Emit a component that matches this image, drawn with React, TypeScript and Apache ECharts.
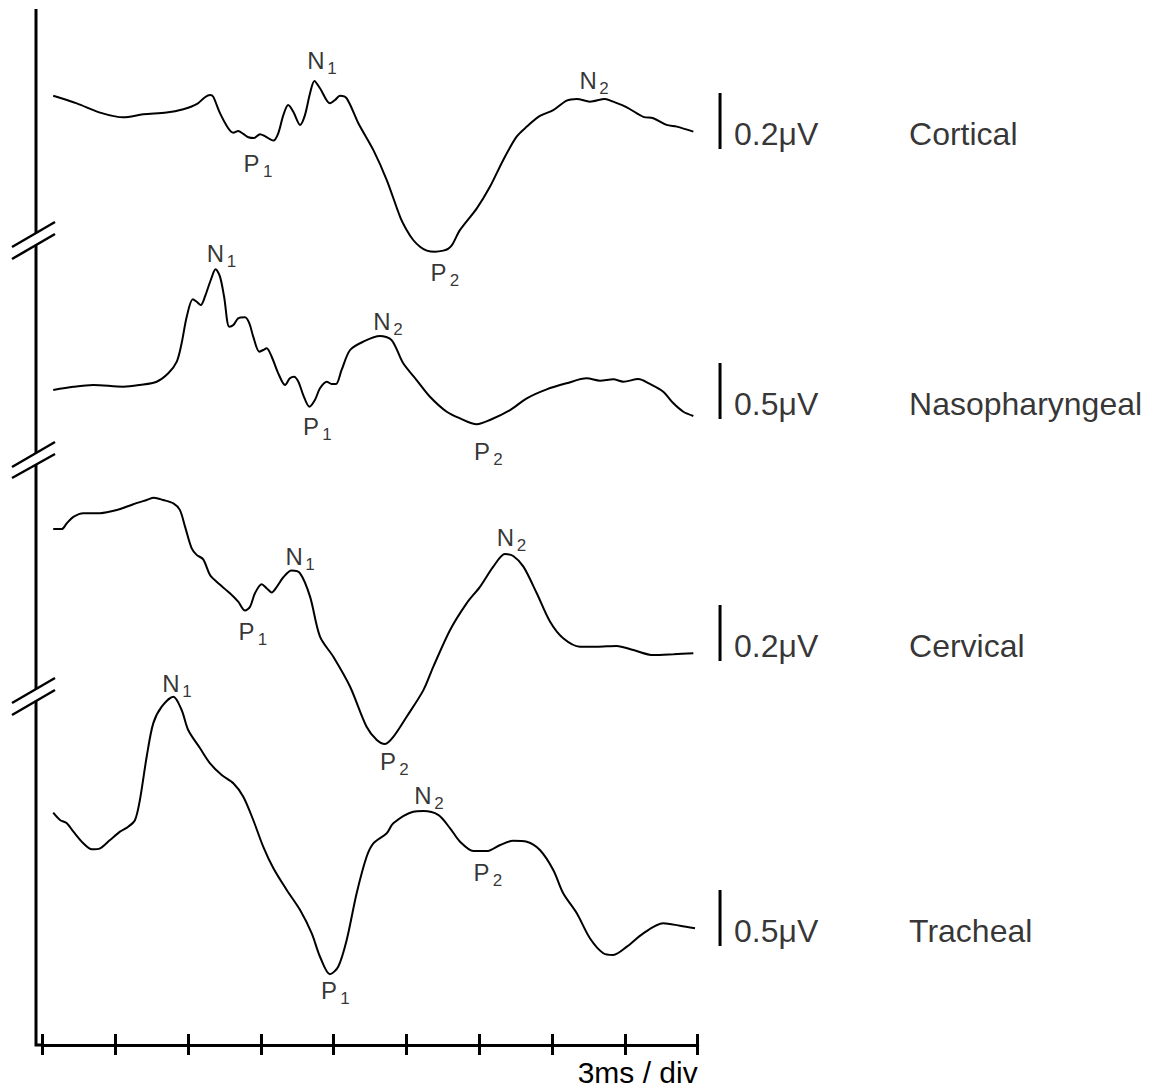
import React, { useEffect, useRef } from "react";
import * as echarts from "echarts";

const FONT = "'Liberation Sans', Arial, Helvetica, sans-serif";

// Time base: 3 ms per division, 9 divisions
const timeMin = 0;
const timeMax = 27;
const timeStep = 3;
const timeAxisLabel = "3ms / div";

const traceNames = ["Cortical", "Nasopharyngeal", "Cervical", "Tracheal"];
const scaleBarsUV = [0.2, 0.5, 0.2, 0.5];

// [time (ms), amplitude (µV, relative to the foot of the scale bar)]
const cortical = [
  [0.45, 0.19], [1.42, 0.163], [2.38, 0.13], [3.34, 0.113], [4.16, 0.124], [5.12, 0.13],
  [5.81, 0.142], [6.36, 0.16], [6.7, 0.185], [6.91, 0.193], [7.04, 0.187], [7.32, 0.128],
  [7.66, 0.074], [7.87, 0.058], [8.07, 0.064], [8.28, 0.054], [8.49, 0.042], [8.72, 0.039],
  [8.97, 0.053], [9.17, 0.046], [9.52, 0.03], [9.72, 0.056], [9.93, 0.121], [10.13, 0.157],
  [10.34, 0.133], [10.62, 0.086], [10.82, 0.121], [11.03, 0.199], [11.21, 0.243], [11.44, 0.217],
  [11.85, 0.163], [12.06, 0.175], [12.26, 0.19], [12.54, 0.181], [13.02, 0.092], [13.64, -0.004],
  [14.19, -0.111], [14.74, -0.242], [15.01, -0.289], [15.28, -0.325], [15.56, -0.349], [15.84, -0.363],
  [16.18, -0.367], [16.52, -0.363], [16.73, -0.356], [16.9, -0.34], [17.21, -0.289], [17.9, -0.212],
  [18.44, -0.135], [18.99, -0.039], [19.54, 0.044], [19.96, 0.08], [20.5, 0.118], [21.05, 0.139],
  [21.6, 0.173], [22.02, 0.179], [22.56, 0.169], [23.18, 0.179], [23.52, 0.169], [24.08, 0.149],
  [24.76, 0.115], [25.17, 0.11], [25.72, 0.086], [26.14, 0.08], [26.82, 0.062],
];

const nasopharyngeal = [
  [0.45, 0.259], [1.28, 0.288], [2.1, 0.304], [3.34, 0.288], [4.02, 0.304], [4.71, 0.333],
  [5.19, 0.408], [5.54, 0.512], [5.74, 0.676], [5.95, 0.913], [6.2, 1.069], [6.36, 1.047],
  [6.53, 1.018], [6.7, 1.092], [6.94, 1.241], [7.14, 1.337], [7.32, 1.271], [7.49, 1.092],
  [7.7, 0.824], [7.87, 0.839], [8.07, 0.899], [8.35, 0.908], [8.53, 0.854], [8.69, 0.735],
  [8.94, 0.601], [9.1, 0.616], [9.24, 0.631], [9.45, 0.556], [9.72, 0.408], [10.0, 0.304],
  [10.2, 0.363], [10.37, 0.378], [10.55, 0.333], [10.75, 0.214], [11.0, 0.11], [11.23, 0.17],
  [11.44, 0.274], [11.72, 0.333], [11.92, 0.313], [12.1, 0.313], [12.33, 0.438], [12.68, 0.616],
  [13.22, 0.69], [13.91, 0.741], [14.39, 0.705], [14.87, 0.497], [15.42, 0.348], [15.97, 0.199],
  [16.66, 0.065], [17.21, 0.006], [17.9, -0.047], [18.44, -0.009], [19.27, 0.08], [19.96, 0.185],
  [20.78, 0.265], [21.6, 0.319], [22.43, 0.363], [22.98, 0.342], [23.52, 0.354], [23.94, 0.333],
  [24.55, 0.357], [25.03, 0.313], [25.58, 0.244], [26.0, 0.14], [26.41, 0.065], [26.82, 0.027],
];

const cervical = [
  [0.45, 0.471], [0.8, 0.471], [1.01, 0.492], [1.28, 0.515], [1.69, 0.528], [2.38, 0.528],
  [3.07, 0.539], [3.75, 0.56], [4.3, 0.575], [4.6, 0.583], [4.98, 0.575], [5.4, 0.563],
  [5.67, 0.539], [5.88, 0.48], [6.15, 0.403], [6.36, 0.379], [6.63, 0.363], [6.91, 0.307],
  [7.18, 0.283], [7.73, 0.242], [8.07, 0.212], [8.35, 0.18], [8.56, 0.194], [8.76, 0.242],
  [9.04, 0.274], [9.24, 0.26], [9.45, 0.245], [9.66, 0.265], [9.93, 0.299], [10.27, 0.323],
  [10.62, 0.313], [11.03, 0.23], [11.44, 0.087], [11.99, 0.015], [12.68, -0.092], [13.36, -0.235],
  [13.78, -0.282], [14.12, -0.296], [14.46, -0.271], [15.01, -0.199], [15.7, -0.104], [16.11, -0.02],
  [16.8, 0.111], [17.48, 0.206], [18.03, 0.265], [18.58, 0.337], [19.06, 0.382], [19.4, 0.375],
  [19.82, 0.337], [20.37, 0.242], [20.92, 0.14], [21.46, 0.081], [22.15, 0.051], [22.84, 0.051],
  [23.66, 0.054], [24.35, 0.039], [25.17, 0.021], [26.0, 0.024], [26.82, 0.028],
];

const tracheal = [
  [0.45, 1.19], [0.73, 1.125], [1.01, 1.096], [1.28, 1.021], [1.69, 0.917], [2.04, 0.863],
  [2.38, 0.872], [2.79, 0.946], [3.2, 1.021], [3.54, 1.065], [3.82, 1.125], [4.02, 1.304],
  [4.3, 1.69], [4.57, 1.988], [4.92, 2.137], [5.4, 2.226], [5.74, 2.107], [6.01, 1.929],
  [6.5, 1.765], [6.91, 1.631], [7.39, 1.527], [7.87, 1.453], [8.28, 1.333], [8.69, 1.125],
  [9.1, 0.887], [9.52, 0.694], [10.07, 0.5], [10.62, 0.321], [11.1, 0.113], [11.44, -0.096],
  [11.85, -0.253], [12.19, -0.185], [12.54, 0.054], [12.95, 0.471], [13.36, 0.797], [13.64, 0.917],
  [14.19, 1.006], [14.46, 1.096], [15.28, 1.199], [15.7, 1.205], [16.31, 1.17], [16.8, 1.051],
  [17.21, 0.931], [17.76, 0.848], [18.31, 0.848], [18.86, 0.902], [19.4, 0.94], [19.96, 0.931],
  [20.5, 0.857], [21.05, 0.679], [21.46, 0.471], [22.02, 0.292], [22.56, 0.069], [23.11, -0.065],
  [23.52, -0.08], [24.08, -0.006], [24.76, 0.113], [25.58, 0.203], [26.27, 0.181], [26.89, 0.158],
];

// Component labels: [letter, subscript, time (ms), amplitude (µV)]
const corticalPeaks = [["N", "1", 11.52, 0.304], ["P", "1", 8.87, -0.064], ["N", "2", 22.73, 0.234], ["P", "2", 16.57, -0.45]];
const nasopharyngealPeaks = [["N", "1", 7.38, 1.455], ["P", "1", 11.32, -0.098], ["N", "2", 14.24, 0.844], ["P", "2", 18.36, -0.321]];
const cervicalPeaks = [["N", "1", 10.62, 0.364], ["P", "1", 8.66, 0.095], ["N", "2", 19.33, 0.429], ["P", "2", 14.49, -0.371]];
const trachealPeaks = [["N", "1", 5.55, 2.313], ["P", "1", 12.06, -0.42], ["N", "2", 15.93, 1.317], ["P", "2", 18.34, 0.629]];

const traceData = [cortical, nasopharyngeal, cervical, tracheal];
const tracePeaks = [corticalPeaks, nasopharyngealPeaks, cervicalPeaks, trachealPeaks];

// ---- layout (pixels) ----
const X0 = 42.3; // pixel of 0 ms
const PX_PER_MS = 655.4 / 27;
const TRACE_X_MIN = -0.5;
const TRACE_X_MAX = 28.5;
const BAR_MS = 27.92;
const layouts = [
  { base: 149, pxPerUV: 280, top: 40, bottom: 300 },
  { base: 419, pxPerUV: 112, top: 240, bottom: 480 },
  { base: 661, pxPerUV: 280, top: 480, bottom: 790 },
  { base: 946, pxPerUV: 112, top: 660, bottom: 1010 },
];
const AXIS_Y = 1045;

function buildOption() {
  const grids: any[] = [];
  const xAxes: any[] = [];
  const yAxes: any[] = [];
  const series: any[] = [];

  layouts.forEach((l, i) => {
    grids.push({
      left: X0 + TRACE_X_MIN * PX_PER_MS,
      width: (TRACE_X_MAX - TRACE_X_MIN) * PX_PER_MS,
      top: l.top,
      height: l.bottom - l.top,
    });
    xAxes.push({ type: "value", gridIndex: i, min: TRACE_X_MIN, max: TRACE_X_MAX, show: false });
    yAxes.push({
      type: "value",
      gridIndex: i,
      min: -(l.bottom - l.base) / l.pxPerUV,
      max: (l.base - l.top) / l.pxPerUV,
      show: false,
    });
    series.push({
      type: "line",
      xAxisIndex: i,
      yAxisIndex: i,
      data: traceData[i],
      showSymbol: false,
      smooth: 0.3,
      clip: false,
      silent: true,
      lineStyle: { color: "#000", width: 2 },
    });
    // scale bar
    series.push({
      type: "line",
      xAxisIndex: i,
      yAxisIndex: i,
      data: [[BAR_MS, 0], [BAR_MS, scaleBarsUV[i]]],
      showSymbol: false,
      clip: false,
      silent: true,
      lineStyle: { color: "#000", width: 3 },
    });
    // scale value + trace name
    series.push({
      type: "scatter",
      xAxisIndex: i,
      yAxisIndex: i,
      symbolSize: 0,
      silent: true,
      data: [[BAR_MS, 0]],
      label: {
        show: true,
        position: "right",
        distance: 14,
        offset: [0, -15],
        color: "#000",
        formatter: `{v|${scaleBarsUV[i]}\u03bcV}{n|${traceNames[i]}}`,
        rich: {
          v: { fontFamily: FONT, fontSize: 32, color: "#000", width: 175 },
          n: { fontFamily: FONT, fontSize: 32, color: "#000" },
        },
      },
    });
    // component labels: letter
    series.push({
      type: "scatter",
      xAxisIndex: i,
      yAxisIndex: i,
      symbolSize: 0,
      silent: true,
      data: tracePeaks[i].map((p) => ({ value: [p[2], p[3]], name: p[0] })),
      label: {
        show: true,
        position: "inside",
        offset: [-6, -3],
        formatter: (p: any) => p.name,
        fontFamily: FONT,
        fontSize: 24,
        color: "#000",
      },
    });
    // component labels: subscript
    series.push({
      type: "scatter",
      xAxisIndex: i,
      yAxisIndex: i,
      symbolSize: 0,
      silent: true,
      data: tracePeaks[i].map((p) => ({ value: [p[2], p[3]], name: p[1] })),
      label: {
        show: true,
        position: "inside",
        offset: [10, 5],
        formatter: (p: any) => p.name,
        fontFamily: FONT,
        fontSize: 17,
        color: "#000",
      },
    });
  });

  // time axis grid
  const gi = layouts.length;
  grids.push({ left: X0, width: (timeMax - timeMin) * PX_PER_MS, top: AXIS_Y - 45, height: 45 });
  const tickStyle = { color: "#000", width: 3 };
  xAxes.push({
    type: "value",
    gridIndex: gi,
    position: "bottom",
    min: timeMin,
    max: timeMax,
    interval: timeStep,
    axisLine: { show: true, lineStyle: { color: "#000", width: 3 } },
    axisTick: { show: true, inside: true, length: 11, lineStyle: tickStyle },
    axisLabel: { show: false },
    splitLine: { show: false },
  });
  xAxes.push({
    type: "value",
    gridIndex: gi,
    position: "bottom",
    min: timeMin,
    max: timeMax,
    interval: timeStep,
    axisLine: { show: false },
    axisTick: { show: true, inside: false, length: 10, lineStyle: tickStyle },
    axisLabel: { show: false },
    splitLine: { show: false },
  });
  yAxes.push({ type: "value", gridIndex: gi, min: 0, max: 1, show: false });

  const stroke = { stroke: "#000", lineWidth: 3 };
  const slash = { stroke: "#000", lineWidth: 2.5 };
  const graphic: any[] = [
    { type: "line", silent: true, shape: { x1: 36, y1: 9, x2: 36, y2: 233 }, style: stroke },
    { type: "line", silent: true, shape: { x1: 36, y1: 245, x2: 36, y2: 453 }, style: stroke },
    { type: "line", silent: true, shape: { x1: 36, y1: 465, x2: 36, y2: 689 }, style: stroke },
    {
      type: "polyline",
      silent: true,
      shape: { points: [[36, 701], [36, AXIS_Y], [43, AXIS_Y]] },
      style: { ...stroke, fill: null },
    },
    { type: "line", silent: true, shape: { x1: 12, y1: 247, x2: 55, y2: 222 }, style: slash },
    { type: "line", silent: true, shape: { x1: 12, y1: 259, x2: 55, y2: 234 }, style: slash },
    { type: "line", silent: true, shape: { x1: 12, y1: 467, x2: 55, y2: 442 }, style: slash },
    { type: "line", silent: true, shape: { x1: 12, y1: 478, x2: 55, y2: 454 }, style: slash },
    { type: "line", silent: true, shape: { x1: 12, y1: 703, x2: 55, y2: 678 }, style: slash },
    { type: "line", silent: true, shape: { x1: 12, y1: 715, x2: 55, y2: 690 }, style: slash },
    {
      type: "text",
      silent: true,
      x: X0 + timeMax * PX_PER_MS,
      y: 1072,
      style: {
        text: timeAxisLabel,
        fontFamily: FONT,
        fontSize: 30,
        lineHeight: 30,
        fill: "#000",
        align: "right",
        verticalAlign: "middle",
      },
    },
  ];

  return {
    animation: false,
    backgroundColor: "#fff",
    grid: grids,
    xAxis: xAxes,
    yAxis: yAxes,
    series,
    graphic,
  };
}

export default function App() {
  const ref = useRef<HTMLDivElement>(null);
  useEffect(() => {
    document.body.style.margin = "0";
    if (!ref.current) return;
    const chart = echarts.init(ref.current, null, { renderer: "svg" });
    chart.setOption(buildOption() as any);
    return () => chart.dispose();
  }, []);
  return (
    <div
      ref={ref}
      style={{ position: "absolute", left: 0, top: 0, width: 1151, height: 1091, background: "#fff" }}
    />
  );
}
